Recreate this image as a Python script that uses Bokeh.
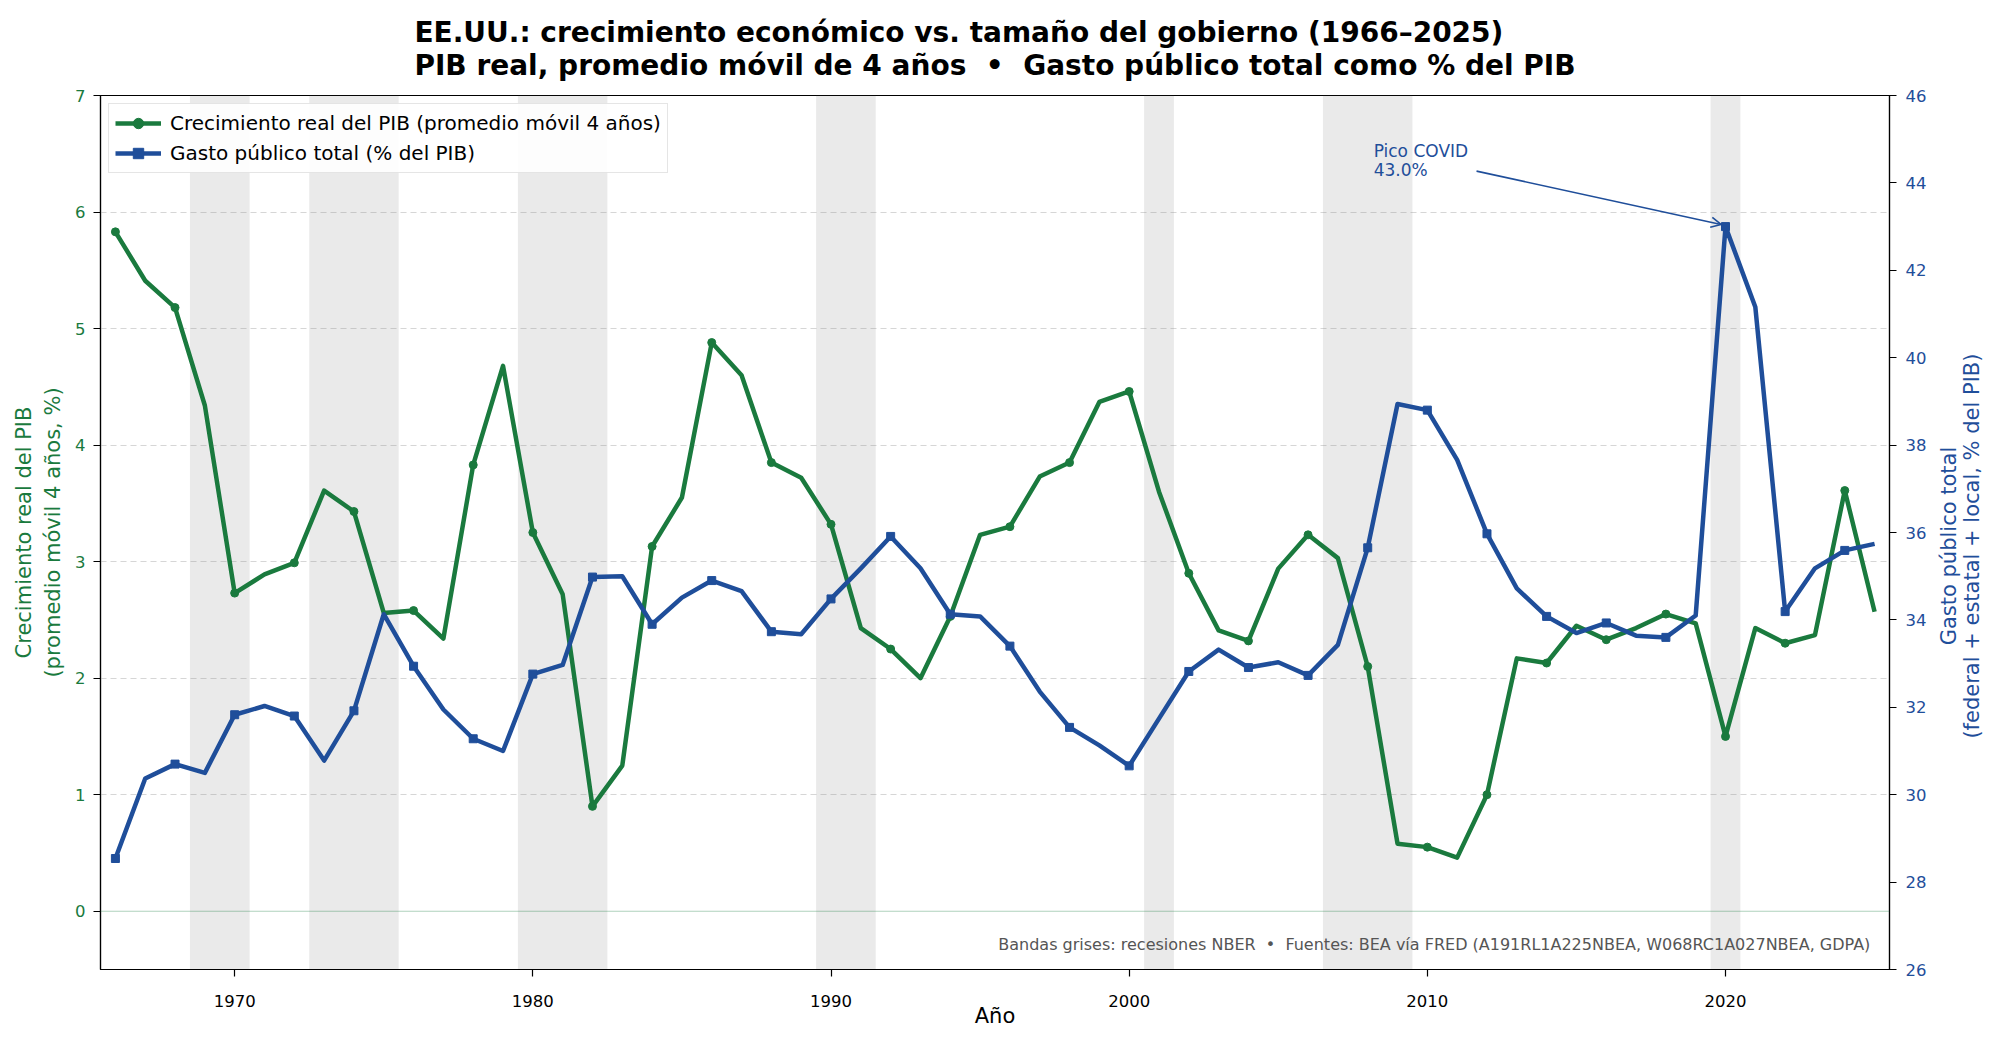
import math
import numpy as np
from bokeh.plotting import figure
from bokeh.layouts import row
from bokeh.models import (Range1d, LinearAxis, FixedTicker, Span, Label, Arrow,
                          OpenHead, Title, Legend, ColumnDataSource)
from bokeh.core.properties import value
from bokeh.embed import file_html
from bokeh.resources import INLINE

# ---------------- data ----------------
years = list(range(1966, 2026))

gdp_growth_ma4 = [
    5.83, 5.41, 5.18, 4.34, 2.73, 2.89, 2.99, 3.61, 3.43, 2.56,
    2.58, 2.34, 3.83, 4.68, 3.25, 2.72, 0.90, 1.25, 3.13, 3.55,
    4.88, 4.60, 3.85, 3.72, 3.32, 2.43, 2.25, 2.00, 2.53, 3.23,
    3.30, 3.73, 3.85, 4.37, 4.46, 3.60, 2.90, 2.41, 2.32, 2.94,
    3.23, 3.03, 2.10, 0.58, 0.55, 0.46, 1.00, 2.17, 2.13, 2.45,
    2.33, 2.43, 2.55, 2.47, 1.50, 2.43, 2.30, 2.37, 3.61, 2.57,
]

gov_spending_pct = [
    28.54, 30.37, 30.70, 30.50, 31.83, 32.03, 31.80, 30.78, 31.92, 34.13,
    32.94, 31.95, 31.28, 31.00, 32.76, 32.97, 34.98, 35.00, 33.90, 34.51,
    34.90, 34.66, 33.73, 33.67, 34.48, 35.18, 35.91, 35.18, 34.13, 34.08,
    33.40, 32.36, 31.54, 31.13, 30.66, 31.74, 32.82, 33.32, 32.91, 33.03,
    32.73, 33.43, 35.65, 38.94, 38.80, 37.66, 35.97, 34.72, 34.08, 33.70,
    33.93, 33.64, 33.60, 34.10, 43.00, 41.16, 34.19, 35.18, 35.59, 35.74,
]

recession_start = [1968.5, 1972.5, 1979.5, 1980.5, 1989.5, 2000.5, 2006.5, 2019.5]
recession_end = [1970.5, 1975.5, 1980.5, 1982.5, 1991.5, 2001.5, 2009.5, 2020.5]

left_ticks = [0, 1, 2, 3, 4, 5, 6, 7]
right_ticks = list(range(26, 47, 2))
x_ticks = [1970, 1980, 1990, 2000, 2010, 2020]

right_label_lines = ["Gasto público total", "(federal + estatal + local, % del PIB)"]

# ---------------- style ----------------
GREEN = "#1a7a3e"
BLUE = "#1f4e9a"
FONT = "DejaVu Sans"
NB = "\u00a0"
XMIN, XMAX = 1965.5, 2025.5
YMIN, YMAX = -0.5, 7.0
RMIN, RMAX = 26.0, 46.0

TOTAL_W, H = 1984, 1031
MAIN_W = 1929
BORDER_TOP, BORDER_BOTTOM = 94, 62

p = figure(width=MAIN_W, height=H, output_backend="svg", toolbar_location=None,
           x_range=Range1d(XMIN, XMAX), y_range=Range1d(YMIN, YMAX),
           min_border_left=100, min_border_right=40, min_border_top=BORDER_TOP,
           min_border_bottom=BORDER_BOTTOM, background_fill_color="white",
           border_fill_color="white")
p.extra_y_ranges = {"gasto": Range1d(RMIN, RMAX)}

p.outline_line_color = "black"
p.outline_line_width = 1.2

# two-line title
p.add_layout(Title(text="EE.UU.: crecimiento económico vs. tamaño del gobierno (1966–2025)\n"
                        f"PIB real, promedio móvil de 4 años{NB}{NB}•{NB}{NB}Gasto público total como % del PIB",
                   align="center", text_font=FONT, text_font_size="28px",
                   text_font_style="bold", text_color="black", standoff=27,
                   text_line_height=1.0), "above")

# recession bands
src_rec = ColumnDataSource(dict(left=recession_start, right=recession_end))
p.quad(left="left", right="right", bottom=YMIN, top=YMAX, source=src_rec,
       fill_color="#808080", fill_alpha=0.17, line_color=None)

# zero line
p.add_layout(Span(location=0, dimension="width", line_color=GREEN,
                  line_alpha=0.35, line_width=1.2))

# grid
p.xgrid.grid_line_color = None
p.ygrid.ticker = FixedTicker(ticks=left_ticks[1:])
p.ygrid.grid_line_color = "#cccccc"
p.ygrid.grid_line_alpha = 0.8
p.ygrid.grid_line_dash = "6 4"
p.ygrid.grid_line_width = 1

# series
yrs = np.array(years)
g = np.array(gdp_growth_ma4)
s = np.array(gov_spending_pct)

r_gl = p.line(yrs, g, line_color=GREEN, line_width=4.5, line_join="round")
r_gm = p.scatter(yrs[::2], g[::2], marker="circle", size=8, fill_color=GREEN,
                 line_color=GREEN)
r_sl = p.line(yrs, s, line_color=BLUE, line_width=4.5, line_join="round",
              y_range_name="gasto")
r_sm = p.scatter(yrs[::2], s[::2], marker="square", size=8, fill_color=BLUE,
                 line_color=BLUE, y_range_name="gasto")

# axes
xa = p.xaxis[0]
xa.ticker = FixedTicker(ticks=x_ticks)
xa.axis_label = "Año"
ya = p.yaxis[0]
ya.ticker = FixedTicker(ticks=left_ticks)
ya.axis_label = "Crecimiento real del PIB\n(promedio móvil 4 años, %)"
ra = LinearAxis(y_range_name="gasto", ticker=FixedTicker(ticks=right_ticks))
p.add_layout(ra, "right")

for ax, col in ((xa, "black"), (ya, GREEN), (ra, BLUE)):
    ax.major_label_text_font = FONT
    ax.major_label_text_font_size = "16.5px"
    ax.major_label_text_color = col
    ax.axis_label_text_font = FONT
    ax.axis_label_text_font_size = "21px"
    ax.axis_label_text_font_style = "normal"
    ax.axis_label_text_color = col
    ax.axis_line_color = "black"
    ax.axis_line_width = 1.2
    ax.major_tick_line_color = "black"
    ax.major_tick_line_width = 1.2
    ax.major_tick_out = 7
    ax.major_tick_in = 0
    ax.minor_tick_line_color = None
    ax.major_label_standoff = 8
    ax.axis_label_standoff = 7

xa.major_label_standoff = 18
xa.axis_label_standoff = -6
xa.major_label_text_line_height = 1.0
xa.axis_label_text_line_height = 1.0
ra.major_label_standoff = 9

# legend
legend = Legend(items=[("Crecimiento real del PIB (promedio móvil 4 años)", [r_gl, r_gm]),
                       ("Gasto público total (% del PIB)", [r_sl, r_sm])],
                location="top_left", margin=8, padding=6, spacing=4,
                label_text_font=FONT, label_text_font_size="20px",
                label_text_color="black",
                label_standoff=9, glyph_width=46, glyph_height=26,
                label_height=26, border_line_color="#cccccc",
                border_line_width=1.2, background_fill_alpha=0.9)
p.add_layout(legend, "center")

# annotation for peak
ipk = int(np.argmax(s))
pk_year, pk_val = years[ipk], gov_spending_pct[ipk]
p.add_layout(Label(x=pk_year - 11.8, y=pk_val + 1.95, y_range_name="gasto",
                   text="Pico COVID", text_font=FONT, text_font_size="17px",
                   text_color=BLUE, text_baseline="top"))
p.add_layout(Label(x=pk_year - 11.8, y=pk_val + 1.95 - 0.43, y_range_name="gasto",
                   text=f"{pk_val:.1f}%", text_font=FONT, text_font_size="17px",
                   text_color=BLUE, text_baseline="top"))
p.add_layout(Arrow(end=OpenHead(size=10, line_color=BLUE, line_width=1.6),
                   x_start=pk_year - 8.35, y_start=pk_val + 1.27,
                   x_end=pk_year - 0.15, y_end=pk_val + 0.05,
                   y_range_name="gasto", line_color=BLUE, line_width=1.6))

# footnote
p.add_layout(Label(x=XMAX - 0.0107 * (XMAX - XMIN), y=YMIN + 0.0285 * (YMAX - YMIN),
                   text=f"Bandas grises: recesiones NBER{NB}{NB}•{NB}{NB}Fuentes: BEA vía FRED "
                        "(A191RL1A225NBEA, W068RC1A027NBEA, GDPA)",
                   text_font=FONT, text_font_size="16px", text_color="#555555",
                   text_align="right", text_baseline="middle"))

# ---- right axis title panel (rotated text, reading bottom-to-top) ----
SIDE_W = TOTAL_W - MAIN_W
p2 = figure(width=SIDE_W, height=H, output_backend="svg", toolbar_location=None,
            x_range=Range1d(0, SIDE_W), y_range=Range1d(0, H),
            x_axis_location=None, y_axis_location=None, min_border=0,
            outline_line_color=None, background_fill_color="white",
            border_fill_color="white")
p2.xgrid.visible = False
p2.ygrid.visible = False
frame_mid = H - (BORDER_TOP + (H - BORDER_TOP - BORDER_BOTTOM) / 2)
p2.text(x=[19, 42], y=[frame_mid, frame_mid], text=right_label_lines,
        angle=math.pi / 2, text_font=value(FONT), text_font_size="21px",
        text_color=BLUE, text_align="center", text_baseline="middle")

layout = row(p, p2)
open("out.html", "w").write(file_html(layout, INLINE))
